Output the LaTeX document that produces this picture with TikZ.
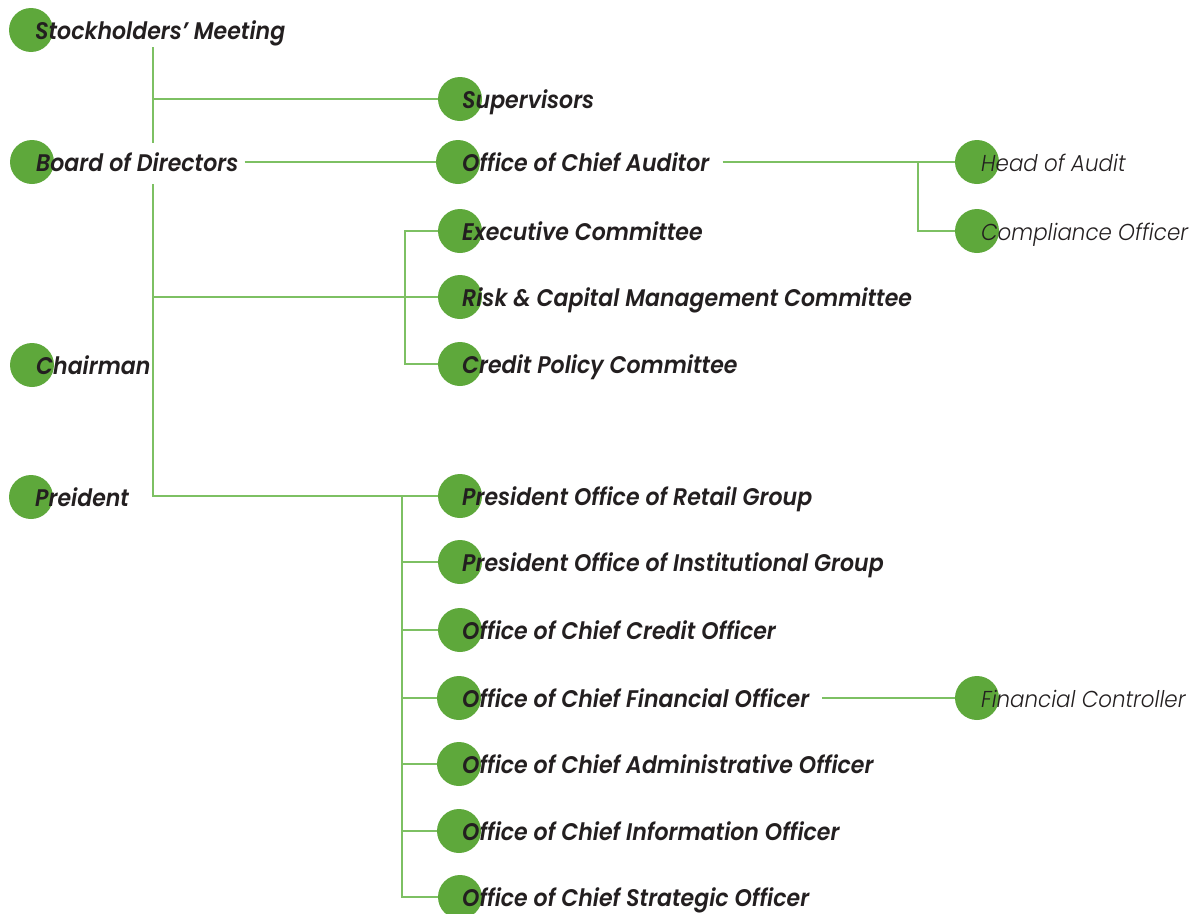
\documentclass[tikz,border=0pt]{standalone}
\usepackage{fontspec}
\newfontfamily\headfont{Poppins SemiBold Italic}[FakeStretch=0.92]
\newfontfamily\lightfont{Poppins Light Italic}[FakeStretch=0.93]
\definecolor{leaf}{HTML}{5EA83B}
\definecolor{twig}{HTML}{7DC063}
\definecolor{ink}{HTML}{231F20}
\tikzset{
  dot/.style={circle,fill=leaf,minimum size=44pt,inner sep=0pt},
  lbl/.style={anchor=base west,inner sep=0pt,text=ink,font=\headfont\fontsize{24}{27}\selectfont},
  lbllight/.style={lbl,font=\lightfont\fontsize{23}{26}\selectfont},
  link/.style={draw=twig,line width=1.6pt}
}
% #1 name, #2 circle x, #3 circle y, #4 text offset, #5 style, #6 text
\newcommand\entry[6]{%
  \node[dot] (#1c) at (#2,#3) {};
  \node[#5] (#1) at (#2+#4,#3+9) {#6};}
\begin{document}
\begin{tikzpicture}[x=1pt,y=-1pt]
\useasboundingbox (0,0) rectangle (1190,913);
% left column
\entry{stk}{31}{30}{4}{lbl}{Stockholders’ Meeting}
\entry{bod}{32}{162}{4}{lbl}{Board of Directors}
\entry{chm}{32}{365}{4}{lbl}{Chairman}
\entry{pre}{31}{497}{4}{lbl}{Preident}
% middle column
\entry{sup}{460}{99}{2}{lbl}{Supervisors}
\entry{aud}{458}{162}{4}{lbl}{Office of Chief Auditor}
\entry{exc}{460}{231}{2}{lbl}{Executive Committee}
\entry{rsk}{460}{297}{2}{lbl}{Risk \& Capital Management Committee}
\entry{cpc}{460}{364}{2}{lbl}{Credit Policy Committee}
\entry{ret}{460}{496}{2}{lbl}{President Office of Retail Group}
\entry{ins}{460}{562}{2}{lbl}{President Office of Institutional Group}
\entry{cco}{460}{630}{2}{lbl}{Office of Chief Credit Officer}
\entry{cfo}{459}{698}{3}{lbl}{Office of Chief Financial Officer}
\entry{cao}{459}{764}{3}{lbl}{Office of Chief Administrative Officer}
\entry{cio}{459}{831}{3}{lbl}{Office of Chief Information Officer}
\entry{cso}{460}{897}{2}{lbl}{Office of Chief Strategic Officer}
% right column
\entry{hoa}{977}{162}{4}{lbllight}{Head of Audit}
\entry{cmp}{977}{231}{4}{lbllight}{Compliance Officer}
\entry{fct}{977}{698}{4}{lbllight}{Financial Controller}
% trunk and branch points
\coordinate (t0) at (153,47);
\coordinate (t1) at (153,143);
\coordinate (t2) at (153,184);
\coordinate (cb) at (405,0);
\coordinate (pb) at (402,0);
\coordinate (ab) at (918,0);
\begin{scope}[link]
  \draw (t0) -- (t1);
  \draw (t0 |- supc) -- (supc.west);
  \draw (t2) |- (retc.west);
  \draw (t2 |- rskc) -- (rskc.west);
  \draw ([xshift=6pt]bodc -| bod.east) -- (audc.west);
  \draw (excc.west) -- (excc.west -| cb) |- (cpcc.west);
  \draw ([xshift=13pt]audc -| aud.east) -- (hoac.west);
  \draw (ab |- hoac) |- (cmpc.west);
  \draw (retc.west -| pb) |- (csoc.west);
  \foreach \n in {ins,cco,cfo,cao,cio}
    \draw (pb |- \n c) -- (\n c.west);
  \draw ([xshift=13pt]cfoc -| cfo.east) -- (fctc.west);
\end{scope}
\end{tikzpicture}
\end{document}
